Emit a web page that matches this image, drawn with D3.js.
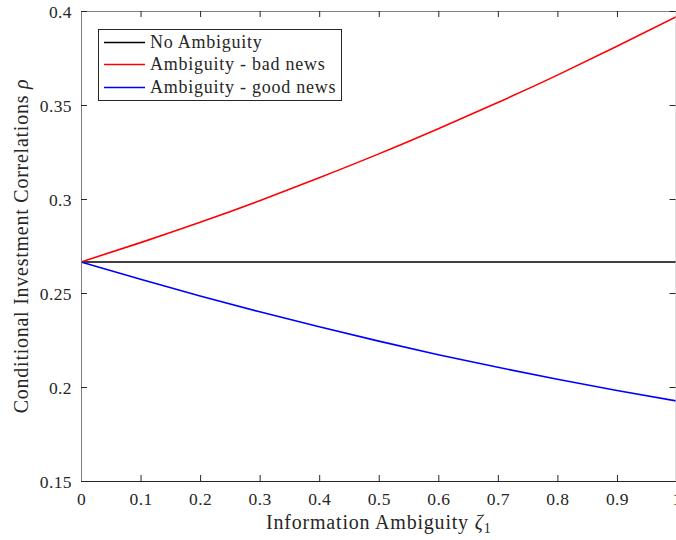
<!DOCTYPE html>
<html>
<head>
<meta charset="utf-8">
<script src="https://cdn.jsdelivr.net/npm/d3@7/dist/d3.min.js"></script>
<style>
html,body{margin:0;padding:0;background:#fff;overflow:hidden;}
svg{display:block;}
text{font-family:"Liberation Serif","Times New Roman",serif;fill:#262626;}
</style>
</head>
<body>
<svg id="chart" width="676" height="540"></svg>
<script>
const zeta = [0, 0.1, 0.2, 0.3, 0.4, 0.5, 0.6, 0.7, 0.8, 0.9, 1.0];
const noAmbiguity = [0.2665, 0.2665, 0.2665, 0.2665, 0.2665, 0.2665, 0.2665, 0.2665, 0.2665, 0.2665, 0.2665];
const badNews = [0.2665, 0.2768, 0.2876, 0.2991, 0.3113, 0.3240, 0.3374, 0.3513, 0.3659, 0.3812, 0.3970];
const goodNews = [0.2665, 0.2573, 0.2484, 0.2400, 0.2320, 0.2244, 0.2172, 0.2105, 0.2041, 0.1981, 0.1926];
const xTicks = [0, 0.1, 0.2, 0.3, 0.4, 0.5, 0.6, 0.7, 0.8, 0.9, 1];
const xTickLabels = ["0", "0.1", "0.2", "0.3", "0.4", "0.5", "0.6", "0.7", "0.8", "0.9", "1"];
const yTicks = [0.15, 0.2, 0.25, 0.3, 0.35, 0.4];
const yTickLabels = ["0.15", "0.2", "0.25", "0.3", "0.35", "0.4"];
const seriesNames = ["No Ambiguity", "Ambiguity - bad news", "Ambiguity - good news"];
const seriesColors = ["#000000", "#ff0000", "#0000ff"];

const svg = d3.select("#chart");
const L = 81, R = 676.5, T = 11, B = 481;
const x = d3.scaleLinear().domain([0, 1]).range([L, R]);
const y = d3.scaleLinear().domain([0.15, 0.4]).range([B, T]);

// series
const series = [noAmbiguity, badNews, goodNews];
const line = d3.line().x((d, i) => x(zeta[i])).y(d => y(d)).curve(d3.curveNatural);
const g = svg.append("g");
series.forEach((s, k) => {
  g.append("path").datum(s).attr("d", line)
    .attr("fill", "none").attr("stroke", seriesColors[k]).attr("stroke-width", 1.6);
});

// axes (ticks inside, box)
const tickLen = 6;
const fmtX = (d, i) => xTickLabels[i];
const fmtY = (d, i) => yTickLabels[i];
const axB = d3.axisBottom(x).tickValues(xTicks).tickFormat(fmtX).tickSizeInner(-tickLen).tickSizeOuter(0).tickPadding(12);
const axT = d3.axisTop(x).tickValues(xTicks).tickFormat("").tickSizeInner(-tickLen).tickSizeOuter(0);
const axL = d3.axisLeft(y).tickValues(yTicks).tickFormat(fmtY).tickSizeInner(-tickLen).tickSizeOuter(0).tickPadding(9);
const axR = d3.axisRight(y).tickValues(yTicks).tickFormat("").tickSizeInner(-tickLen).tickSizeOuter(0);

function style(sel, col) {
  sel.select(".domain").attr("stroke", col).attr("stroke-width", 1);
  sel.selectAll(".tick line").attr("stroke", "#262626").attr("stroke-width", 1);
  sel.selectAll(".tick text").attr("font-size", 17.5).attr("fill", "#262626")
    .style("font-family", '"Liberation Serif","Times New Roman",serif')
    .style("letter-spacing", "0.4px");
}
const gB = svg.append("g").attr("transform", `translate(0,${B})`).call(axB); style(gB, "#262626");
const gT = svg.append("g").attr("transform", `translate(0,${T})`).call(axT); style(gT, "#808080");
const gL = svg.append("g").attr("transform", `translate(${L},0)`).call(axL); style(gL, "#808080");
const gR = svg.append("g").attr("transform", `translate(${R - 1},0)`).call(axR); style(gR, "#c0c0c0");
gL.selectAll(".tick text").attr("dy", "0.35em");

// axis labels
const xl = svg.append("text").attr("x", (L + R) / 2).attr("y", 529).attr("text-anchor", "middle")
  .attr("font-size", 20).style("letter-spacing", "0.8px");
xl.append("tspan").text("Information Ambiguity ");
xl.append("tspan").attr("font-style", "italic").text("ζ");
xl.append("tspan").attr("font-size", 14).attr("dy", 4).text("1");

const yl = svg.append("text").attr("transform", `translate(28,${(T + B) / 2}) rotate(-90)`)
  .attr("text-anchor", "middle").attr("font-size", 20).style("letter-spacing", "0.75px");
yl.append("tspan").text("Conditional Investment Correlations ");
yl.append("tspan").attr("font-style", "italic").text("ρ");

// legend
const lg = svg.append("g");
lg.append("rect").attr("x", 98.5).attr("y", 29.5).attr("width", 243).attr("height", 71)
  .attr("fill", "#fff").attr("stroke", "#262626").attr("stroke-width", 1);
const ly = [42.5, 64.5, 87.5];
seriesNames.forEach((n, k) => {
  lg.append("line").attr("x1", 104).attr("x2", 145).attr("y1", ly[k]).attr("y2", ly[k])
    .attr("stroke", seriesColors[k]).attr("stroke-width", 1.6);
  lg.append("text").attr("x", 150).attr("y", ly[k] + 5.5).attr("font-size", 18)
    .style("letter-spacing", "0.75px").text(n);
});
</script>
</body>
</html>
